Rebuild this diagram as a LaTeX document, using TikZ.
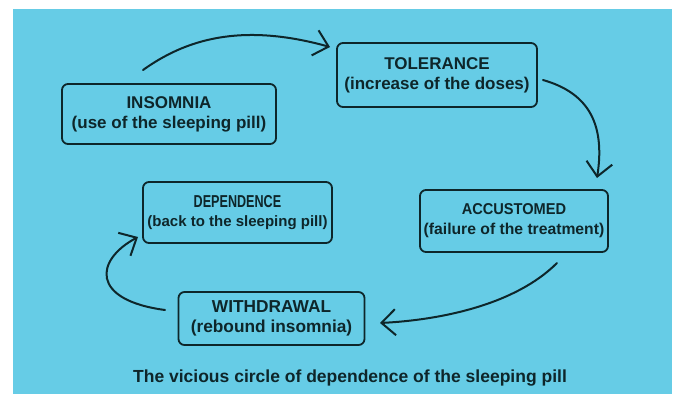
\documentclass[tikz,border=0pt]{standalone}
\usepackage{fontspec}
\setmainfont{Liberation Sans}
\usetikzlibrary{arrows.meta}
\definecolor{bg}{RGB}{102,204,230}
\definecolor{ink}{RGB}{14,38,42}
\tikzset{
  box/.style={draw=ink, line width=1.8pt, rounded corners=6pt, fill=bg,
    text=ink, align=center, inner sep=0pt, font=\bfseries},
  conn/.style={draw=ink, line width=2pt, line cap=round,
    -{Straight Barb[length=14pt,width=26pt,line width=2pt]}},
  caption/.style={text=ink, font=\bfseries\fontsize{17.5}{20}\selectfont}
}
\begin{document}
\begin{tikzpicture}[x=1pt,y=-1pt]
\useasboundingbox (0,0) rectangle (675,394);
\fill[white] (0,0) rectangle (675,394);
\fill[bg] (13,9) rectangle (672,394);
% boxes
\node[box, minimum width=214pt, minimum height=60pt, font=\bfseries\fontsize{17}{20}\selectfont] (ins) at (169,114)
  {INSOMNIA\\(use of the sleeping pill)};
\node[box, minimum width=200pt, minimum height=64pt, font=\bfseries\fontsize{17}{20}\selectfont] (tol) at (437,75)
  {TOLERANCE\\(increase of the doses)};
\node[box, minimum width=188pt, minimum height=62pt, font=\bfseries\fontsize{15.7}{20}\selectfont] (acc) at (514,221)
  {\scalebox{0.93}[1]{ACCUSTOMED}\\(failure of the treatment)};
\node[box, minimum width=189pt, minimum height=61pt, font=\bfseries\fontsize{15}{19}\selectfont] (dep) at (237.5,212.5)
  {\scalebox{0.84}[1.15]{DEPENDENCE}\\(back to the sleeping pill)};
\node[box, minimum width=186pt, minimum height=53pt, font=\bfseries\fontsize{17.3}{20}\selectfont] (wit) at (271.5,318.5)
  {WITHDRAWAL\\(rebound insomnia)};
\node[caption] (cap) at (350,378) {The vicious circle of dependence of the sleeping pill};
% connector end points
\coordinate (a1s) at (143,70);
\coordinate (a1e) at (330,47);
\coordinate (a2s) at (543,80);
\coordinate (a2e) at (597,178);
\coordinate (a3s) at (557,263);
\coordinate (a3e) at (380,323);
\coordinate (a4s) at (165,310);
\coordinate (a4e) at (138,237);
% connectors
\draw[conn] (a1s) .. controls (185,40) and (240,22) .. (a1e);
\draw[conn] (a2s) .. controls (585,92) and (606,120) .. (a2e);
\draw[conn] (a3s) .. controls (515,305) and (440,320) .. (a3e);
\draw[conn] (a4s) .. controls (90,300) and (95,260) .. (a4e);
\end{tikzpicture}
\end{document}
